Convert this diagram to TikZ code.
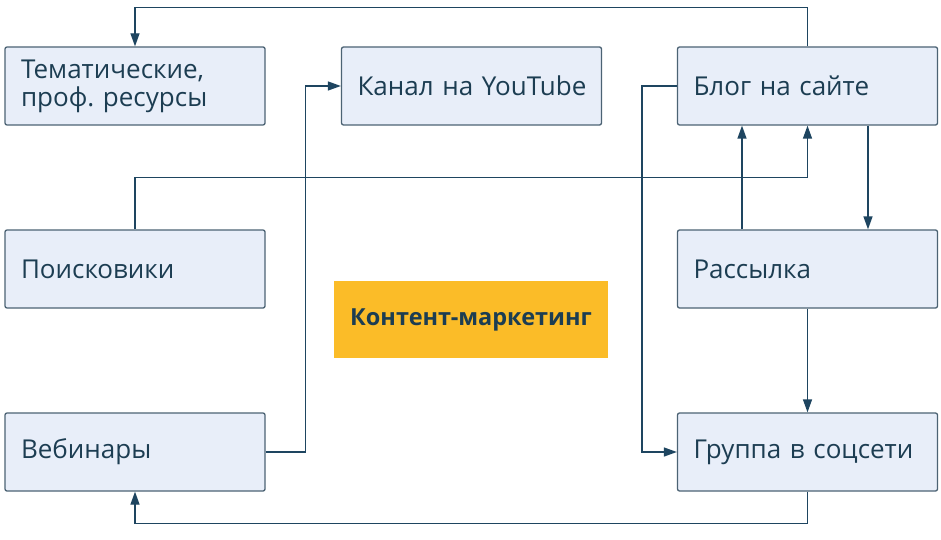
\documentclass[tikz,border=0pt]{standalone}
\usepackage{fontspec}
\setmainfont{Open Sans}
\usetikzlibrary{arrows.meta}
\definecolor{boxfill}{HTML}{E8EEF9}
\definecolor{boxline}{HTML}{4C6374}
\definecolor{txt}{HTML}{1C3D52}
\definecolor{connc}{HTML}{1E4560}
\definecolor{gold}{HTML}{FBBC28}
\frenchspacing
\hbadness=10000 \hfuzz=100pt
\begin{document}
\begin{tikzpicture}[x=1pt,y=-1pt,
  box/.style={draw=boxline, fill=boxfill, line width=1.3pt, rounded corners=2pt,
    minimum width=260pt, minimum height=78pt, text width=228pt, align=left,
    inner xsep=16pt, font=\fontsize{26}{28}\selectfont, text=txt},
  center/.style={fill=gold, minimum width=274pt, minimum height=77pt, inner sep=0pt,
    font=\fontsize{23.5}{26}\selectfont\bfseries, text=txt},
  conn/.style={draw=connc, line width=1.3pt, -{Triangle[length=13pt,width=9pt]}}]
\useasboundingbox[fill=white] (0,0) rectangle (941,540);
\node[box] (tem) at (135,86) {Тематические,\\проф. ресурсы};
\node[box] (kanal) at (471.5,86) {\mbox{Канал на YouTube}};
\node[box] (blog) at (807.5,86) {Блог на сайте};
\node[box] (poisk) at (135,269) {Поисковики};
\node[box] (ras) at (807.5,269) {Рассылка};
\node[box] (veb) at (135,452) {Вебинары};
\node[box] (grp) at (807.5,452) {\mbox{Группа в соцсети}};
\node[center] (km) at (471,319.5) {Контент-маркетинг};
\draw[conn] (blog.north) -- ++(0,-39) -| (tem.north);
\draw[conn] (poisk.north) -- ++(0,-52) -| (blog.south);
\draw[conn] ([xshift=-65.5pt]ras.north) -- ([xshift=-65.5pt]blog.south);
\draw[conn] ([xshift=60.5pt]blog.south) -- ([xshift=60.5pt]ras.north);
\draw[conn] (ras.south) -- (grp.north);
\draw[conn] (blog.west) -- ++(-35,0) |- (grp.west);
\draw[conn] (veb.east) -- ++(40,0) |- (kanal.west);
\draw[conn] (grp.south) -- ++(0,32) -| (veb.south);
\end{tikzpicture}
\end{document}
